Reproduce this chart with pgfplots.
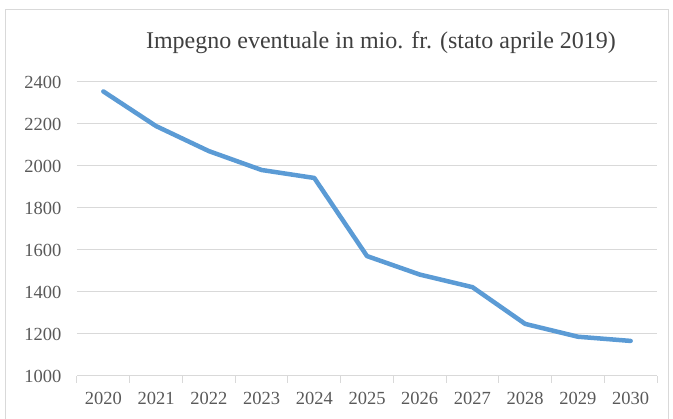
\documentclass[border=0pt]{standalone}
\usepackage{pgfplots}
\pgfplotsset{compat=1.18}
\usepackage{fontspec}
\setmainfont{Liberation Serif}
\definecolor{linecol}{HTML}{5B9BD5}
\definecolor{gridcol}{HTML}{D9D9D9}
\definecolor{txtcol}{HTML}{595959}
\definecolor{titlecol}{HTML}{404040}
\begin{document}
\begin{tikzpicture}[x=1pt,y=1pt]
\path[use as bounding box] (0,0) rectangle (673,419);
\draw[gridcol, line width=1pt] (5,-5) rectangle (668,409);
\begin{axis}[
  at={(77pt,43pt)}, anchor=south west,
  scale only axis, width=580pt, height=294pt,
  xmin=-0.5, xmax=10.5, ymin=1000, ymax=2400,
  xtick={0,...,10},
  xticklabels={2020,2021,2022,2023,2024,2025,2026,2027,2028,2029,2030},
  ytick={1000,1200,...,2400},
  ymajorgrids, grid style={gridcol, line width=1pt},
  axis x line*=bottom, axis y line*=left,
  x axis line style={draw=gridcol, line width=1pt, -},
  y axis line style={draw=none},
  major tick length=0pt,
  extra x ticks={-0.5,0.5,...,10.5},
  extra x tick labels={},
  extra x tick style={grid=none, major tick length=7pt, tick align=outside, tick style={draw=gridcol, line width=1pt}},
  ticklabel style={font=\fontsize{18.5}{21}\selectfont, text=txtcol},
  /pgf/number format/assume math mode=true,
  /pgf/number format/1000 sep={},
  yticklabel style={xshift=-12pt},
  xticklabel style={yshift=-13pt},
  clip=false,
]
\addplot[linecol, line width=4.5pt, line join=round, line cap=round] coordinates {
(0,2355) (1,2190) (2,2071) (3,1981) (4,1943) (5,1571) (6,1483) (7,1423) (8,1248) (9,1187) (10,1167)
};
\end{axis}
\node[text=titlecol, font=\fontsize{24}{27}\selectfont] at (381,376) {Impegno eventuale in mio. fr. (stato aprile 2019)};
\end{tikzpicture}
\end{document}
